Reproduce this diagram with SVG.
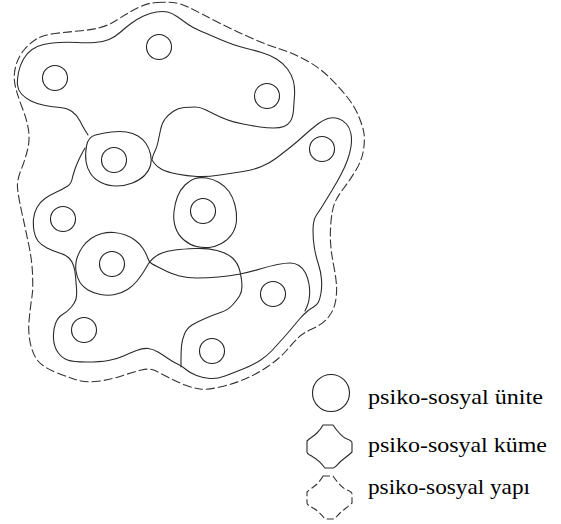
<svg xmlns="http://www.w3.org/2000/svg" width="561" height="524" viewBox="0 0 561 524">
<style>
.u{fill:none;stroke:#222;stroke-width:1.1}
.k{fill:none;stroke:#2a2a2a;stroke-width:1.1;stroke-linejoin:round;stroke-linecap:round}
.y{fill:none;stroke:#333;stroke-width:1.1;stroke-dasharray:9 3;stroke-linejoin:round}
.t{font-family:'Liberation Serif','Times New Roman',serif;font-size:21.5px;fill:#000}
</style>
<defs>
<path id="lobe" d="M323,425 L333,425 C337,431 342,437 347,439 C350,440 352,441 352,443 L352,452 C348,456 343,459 340,462 C337,465 335,468 333,468 L325,468 C321,463 317,459 313,457 C310,455 307,454 307,452 L307,441 C310,438 314,436 317,433 C320,430 322,427 323,425 Z"/>
</defs>
<rect width="561" height="524" fill="#fff"/>
<g id="structure">
<path class="y" d="M156.5,2.5 Q165,2 172.5,2.5 Q180,3 190,8 Q200,13 216.5,21.5 Q233,30 250,37.5 Q267,45 280,49 Q293,53 306.5,60.5 Q320,68 330,78 Q340,88 347.5,97.5 Q355,107 359,117 Q363,127 364,133.5 Q365,140 363.5,150 Q362,160 356,170 Q350,180 343.5,188.5 Q337,197 334.5,203.5 Q332,210 331,221.5 Q330,233 330.5,241.5 Q331,250 332,256 Q333,262 334.5,270 Q336,278 336.5,285.5 Q337,293 335.5,301.5 Q334,310 328.5,317 Q323,324 313,328.5 Q303,333 298,338 Q293,343 286.5,350.5 Q280,358 268.5,366 Q257,374 245,379 Q233,384 220,387 Q207,390 200,389 Q193,388 185,385 Q177,382 168.5,377.5 Q160,373 155,370.5 Q150,368 141.5,370 Q133,372 123,375.5 Q113,379 100,381 Q87,383 77,380 Q67,377 55,372 Q43,367 38,361 Q33,355 30.5,344 Q28,333 29,321.5 Q30,310 31,303.5 Q32,297 32.5,292 Q33,287 32.5,273.5 Q32,260 28.5,243.5 Q25,227 21.5,211 Q18,195 17.5,187.5 Q17,180 21,170 Q25,160 27.5,150 Q30,140 28.5,130 Q27,120 22.5,108.5 Q18,97 15.5,87 Q13,77 15.5,67 Q18,57 24,50 Q30,43 36.5,39 Q43,35 55,33.5 Q67,32 78.5,31 Q90,30 98.5,28 Q107,26 113.5,22 Q120,18 126.5,14 Q133,10 140.5,6.5 Q148,3 156.5,2.5 Z"/>
</g>
<g id="clusters">
<path id="cluster-outline" class="k" d="M85,148 L82.5,152.5 Q80,157 78,161.5 Q76,166 74.5,170.5 Q73,175 72,179.5 Q71,184 67,186.5 Q63,189 56.5,192 Q50,195 45,198.5 Q40,202 37,207.5 Q34,213 33.5,219 Q33,225 34,231 Q35,237 38,241 Q41,245 47,248 Q53,251 59.5,253 Q66,255 69,258 Q72,261 73.5,265.5 Q75,270 75.5,276 Q76,282 76.5,288.5 Q77,295 76,299 Q75,303 71,307.5 Q67,312 62.5,314.5 Q58,317 55.5,323.5 Q53,330 53.5,338.5 Q54,347 58,352.5 Q62,358 67.5,360 Q73,362 86.5,362 Q100,362 108.5,360.5 Q117,359 123.5,356 Q130,353 136.5,350.5 Q143,348 148,348.5 Q153,349 158,352 Q163,355 168,358.5 Q173,362 177.5,364 Q182,366 186,369.5 Q190,373 196.5,375.5 Q203,378 210,378.5 Q217,379 225,376 Q233,373 243,369 Q253,365 260,360.5 Q267,356 272,350.5 Q277,345 282,339.5 Q287,334 292,328 Q297,322 300,318.5 Q303,315 306.5,312 Q310,309 313.5,307 Q317,305 318.5,302 Q320,299 321,293 Q322,287 321.5,279.5 Q321,272 318.5,264.5 Q316,257 314.5,248.5 Q313,240 313,230 Q313,220 316.5,215 Q320,210 324,203.5 Q328,197 332.5,189.5 Q337,182 341,174.5 Q345,167 347.5,160 Q350,153 351,146.5 Q352,140 351,134 Q350,128 346.5,124 Q343,120 338,118.5 Q333,117 328,118.5 Q323,120 316.5,125 Q310,130 303.5,136 Q297,142 290,147.5 Q283,153 276.5,158 Q270,163 261.5,166.5 Q253,170 243,171.5 Q233,173 220,175 Q207,177 197,176.5 Q187,176 177,174 Q167,172 162,169.5 Q157,167 154.5,163.5 L152,160 L152.5,157.5 Q153,155 155,151 Q157,147 158,142 Q159,137 160.5,130 Q162,123 165,119 Q168,115 173,111.5 Q178,108 184,107.5 Q190,107 195,107 Q200,107 205,109.5 Q210,112 215,114.5 Q220,117 226.5,119.5 Q233,122 243,124 Q253,126 260,127 Q267,128 273.5,128 Q280,128 284,126.5 Q288,125 290.5,121 Q293,117 293.5,110 Q294,103 294.5,95.5 Q295,88 293.5,81.5 Q292,75 287.5,69 Q283,63 276.5,59 Q270,55 261.5,52.5 Q253,50 243,47.5 Q233,45 221.5,40 Q210,35 201.5,31.5 Q193,28 187.5,24 Q182,20 177,16.5 Q172,13 167.5,12 Q163,11 156.5,12 Q150,13 143.5,16 Q137,19 131,23.5 Q125,28 120,32.5 Q115,37 109,39.5 Q103,42 95,42.5 Q87,43 77,42.5 Q67,42 58.5,42.5 Q50,43 43.5,44.5 Q37,46 32,49.5 Q27,53 23.5,59 Q20,65 18.5,72.5 Q17,80 17.5,85 Q18,90 21.5,94 Q25,98 31,101 Q37,104 45,105.5 Q53,107 60,107.5 Q67,108 72,111.5 Q77,115 80,121 Q83,127 85.5,131 L88,135"/>
<path id="cluster-inner" class="k" d="M305,311 L307,306.5 Q309,302 309.5,296 Q310,290 309,284 Q308,278 305.5,273 Q303,268 299,265.5 Q295,263 290,263 Q285,263 277.5,264.5 Q270,266 260,269 Q250,272 240,274 Q230,276 218.5,277 Q207,278 197,278 Q187,278 179.5,276 Q172,274 167,271.5 Q162,269 158,267 Q154,265 151.5,263.5 Q149,262 147.5,257.5 Q146,253 143,248.5 Q140,244 135.5,240.5 Q131,237 125.5,235 Q120,233 114,232.5 Q108,232 102,233.5 Q96,235 91,238.5 Q86,242 82.5,247 Q79,252 77,258 Q75,264 76,271 Q77,278 80,282.5 Q83,287 88,290 Q93,293 100.5,294.5 Q108,296 115,294.5 Q122,293 127.5,289.5 Q133,286 137,281 Q141,276 143.5,272 Q146,268 148,264.5 Q150,261 153.5,258 Q157,255 162,253 Q167,251 175,250 Q183,249 195,248.5 Q207,248 217,250.5 Q227,253 232.5,258 Q238,263 240,271.5 Q242,280 242,286 Q242,292 239.5,296 Q237,300 232.5,305 Q228,310 220.5,312.5 Q213,315 205,318.5 Q197,322 192,325 Q187,328 184.5,334 Q182,340 181.5,346 Q181,352 181,359.5 L181,367"/>
<path id="ring4" class="k" d="M95.5,135 Q103,133 111.5,132 Q120,131 126.5,132 Q133,133 138,136 Q143,139 146,143.5 Q149,148 150.5,154 Q152,160 150.5,165.5 Q149,171 144.5,175.5 Q140,180 132.5,183 Q125,186 116.5,186 Q108,186 101,182.5 Q94,179 90.5,173.5 Q87,168 86,161.5 Q85,155 86.5,146 Q88,137 95.5,135 Z"/>
<path id="ring6" class="k" d="M206.5,178 Q213,179 219,182.5 Q225,186 229,191.5 Q233,197 235,205 Q237,213 236.5,220.5 Q236,228 232,234 Q228,240 221.5,243.5 Q215,247 209,247.5 Q203,248 196.5,246.5 Q190,245 184,240 Q178,235 175.5,227.5 Q173,220 174,211.5 Q175,203 177.5,196.5 Q180,190 185,185 Q190,180 195,178.5 Q200,177 206.5,178 Z"/>
</g>
<g id="units">
<g id="unit1"><circle class="u" cx="159" cy="47" r="12.5"/></g>
<g id="unit2"><circle class="u" cx="55" cy="78" r="12.5"/></g>
<g id="unit3"><circle class="u" cx="267" cy="96" r="12.5"/></g>
<g id="unit4"><circle class="u" cx="114" cy="160" r="12.5"/></g>
<g id="unit5"><circle class="u" cx="322" cy="149" r="12.5"/></g>
<g id="unit6"><circle class="u" cx="203" cy="211" r="12.5"/></g>
<g id="unit7"><circle class="u" cx="63" cy="219" r="12.5"/></g>
<g id="unit8"><circle class="u" cx="112" cy="264" r="12.5"/></g>
<g id="unit9"><circle class="u" cx="273" cy="294" r="12.5"/></g>
<g id="unit10"><circle class="u" cx="84" cy="330" r="12.5"/></g>
<g id="unit11"><circle class="u" cx="212" cy="351" r="12.5"/></g>
</g>
<g id="legend">
<g id="legend-unit"><circle class="u" cx="331" cy="393" r="18.5"/><text class="t" x="368" y="404" textLength="175" lengthAdjust="spacingAndGlyphs">psiko-sosyal ünite</text></g>
<g id="legend-cluster"><use href="#lobe" class="k"/><text class="t" x="368" y="452" textLength="179" lengthAdjust="spacingAndGlyphs">psiko-sosyal küme</text></g>
<g id="legend-structure"><use href="#lobe" class="y" transform="translate(0,51)" style="stroke-dasharray:7 3"/><text class="t" x="368" y="494" textLength="162" lengthAdjust="spacingAndGlyphs">psiko-sosyal yapı</text></g>
</g>
</svg>
